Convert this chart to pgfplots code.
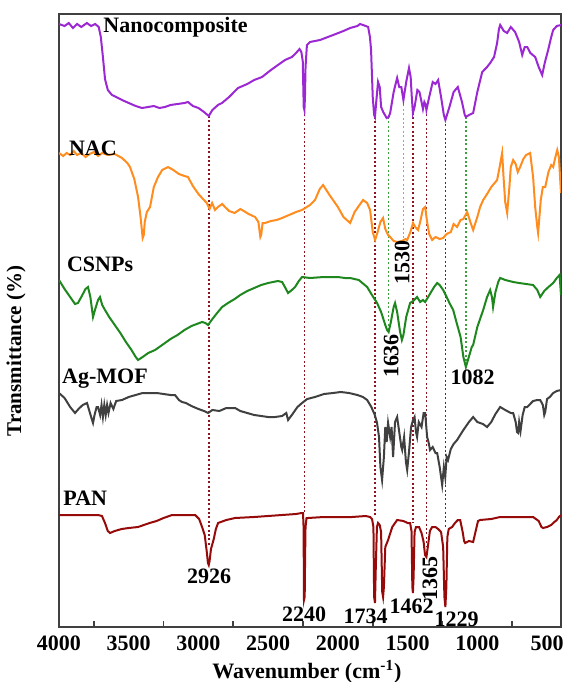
\documentclass[border=0pt]{standalone}
\usepackage{fontspec}
\setmainfont{Liberation Serif}
\usepackage{pgfplots}
\usepackage{pgfplotstable}
\pgfplotsset{compat=1.18}
\definecolor{cpur}{RGB}{155,40,210}
\definecolor{corg}{RGB}{255,140,30}
\definecolor{cgrn}{RGB}{30,135,30}
\definecolor{cgry}{RGB}{64,64,64}
\definecolor{cred}{RGB}{150,10,10}
\definecolor{cdot}{RGB}{140,20,30}
\definecolor{cgdot}{RGB}{60,160,60}
\newcommand\lf{\fontsize{11}{13}\selectfont\bfseries}

\pgfplotstableread{
x y
4000 603
3960 601
3930 604
3900 599
3870 603
3840 600
3800 604
3770 601
3740 603
3715 600
3700 590
3685 570
3670 548
3650 537
3620 532
3590 530
3548 527
3500 524
3450 521
3405 519
3360 520
3320 521
3280 519
3240 520
3200 522
3150 523
3100 524
3075 525
3040 521
3000 519
2960 515
2926 511
2900 517
2860 522
2831 524
2780 530
2716 539
2650 543
2600 547
2544 550
2480 557
2430 562
2379 567
2330 570
2300 574
2275 578
2262 575
2252 566
2245 520
2240 517
2236 530
2232 560
2222 582
2200 585
2128 587
2034 592
1960 596
1912 599
1860 601
1841 603
1800 601
1783 600
1770 590
1762 577
1750 530
1740 512
1734 510
1725 525
1712 545
1700 540
1690 520
1675 515
1650 509
1636 510
1625 514
1600 535
1575 549
1560 540
1545 540
1530 527
1510 545
1490 559
1478 550
1470 530
1462 514
1450 520
1430 537
1415 535
1400 525
1390 518
1380 525
1370 522
1365 517
1345 530
1320 545
1300 543
1281 547
1260 530
1240 512
1229 507
1200 520
1170 535
1140 540
1110 525
1090 512
1082 510
1060 512
1030 514
1000 535
965 555
930 560
908 564
880 570
858 584
845 598
836 602
810 596
786 594
760 600
729 595
700 585
678 572
660 580
642 580
620 574
585 570
560 560
535 552
515 565
492 577
470 590
456 597
430 601
400 602
}\nano

\pgfplotstableread{
x y
4000 474
3970 471
3945 474
3920 472
3895 476
3870 472
3840 474
3810 470
3780 473
3750 475
3720 471
3690 474
3650 472
3600 473
3548 469
3510 464
3491 460
3460 448
3433 430
3415 410
3400 389
3392 392
3385 405
3370 415
3347 420
3320 440
3290 450
3260 457
3218 460
3180 457
3140 453
3100 451
3075 450
3040 441
3000 433
2974 429
2940 424
2920 418
2902 424
2881 417
2860 420
2830 423
2809 420
2780 416
2740 414
2700 418
2687 417
2640 413
2594 410
2570 405
2556 390
2550 392
2540 404
2522 404
2480 406
2440 407
2400 409
2350 412
2300 415
2257 417
2200 422
2164 427
2130 438
2106 442
2060 432
2000 420
1960 410
1912 404
1880 415
1840 423
1819 427
1790 424
1769 417
1750 395
1733 387
1715 395
1695 405
1676 409
1660 398
1640 392
1625 390
1600 386
1575 385
1540 386
1515 388
1503 387
1480 395
1461 404
1445 400
1425 397
1410 405
1390 418
1374 420
1360 405
1345 393
1324 387
1300 390
1270 388
1245 389
1220 393
1190 395
1170 403
1145 400
1120 407
1100 408
1073 415
1050 405
1030 397
1000 410
980 420
958 427
930 433
900 440
858 447
840 460
822 474
812 450
800 425
786 414
770 440
760 460
743 467
725 463
710 455
693 460
670 468
650 472
621 474
600 450
585 420
570 400
564 394
545 427
530 440
513 440
490 455
470 462
456 460
440 470
427 477
415 470
400 434
}\nac

\pgfplotstableread{
x y
4000 347
3960 338
3920 330
3885 323
3864 324
3840 330
3810 338
3792 340
3775 330
3756 310
3740 318
3720 327
3706 330
3690 322
3670 317
3640 310
3600 302
3560 294
3520 285
3480 277
3450 270
3433 267
3400 270
3360 274
3311 277
3250 283
3200 288
3150 292
3100 297
3050 301
2974 305
2950 304
2931 302
2900 308
2860 315
2830 320
2788 324
2740 328
2700 332
2650 336
2600 339
2550 342
2500 344
2430 346
2400 345
2380 340
2357 334
2330 337
2307 340
2280 346
2257 350
2200 349
2100 350
2000 350
1950 349
1912 349
1850 347
1790 340
1760 333
1719 324
1690 315
1660 302
1647 297
1636 295
1620 305
1600 320
1590 324
1575 315
1555 296
1541 287
1530 292
1510 310
1482 324
1460 326
1432 330
1410 325
1390 327
1374 325
1340 333
1310 340
1288 344
1270 342
1245 337
1220 330
1200 324
1173 317
1150 305
1120 290
1100 270
1082 260
1065 268
1040 280
1030 282
1000 300
958 317
930 330
908 337
895 330
887 320
870 335
850 345
836 349
800 347
743 345
700 344
650 343
600 342
570 337
549 330
520 336
490 340
456 344
430 349
410 352
400 332
}\csnp

\pgfplotstableread{
x y
4000 234
3960 229
3920 220
3885 214
3860 218
3830 222
3799 224
3780 215
3765 208
3756 204
3745 212
3730 220
3720 220
3705 212
3695 222
3685 210
3675 222
3665 212
3655 222
3645 214
3630 224
3610 218
3590 226
3548 227
3500 230
3450 232
3400 234
3362 234
3300 234
3250 233
3200 232
3168 232
3140 227
3118 225
3090 224
3050 221
3000 218
2960 216
2931 214
2900 217
2850 216
2800 219
2737 219
2700 216
2650 214
2600 212
2550 211
2501 210
2450 210
2400 211
2370 214
2357 207
2330 212
2290 220
2257 224
2220 228
2164 230
2100 233
2034 234
1980 235
1920 234
1860 232
1820 230
1790 227
1760 220
1735 212
1719 204
1705 190
1695 160
1683 147
1670 170
1660 200
1650 185
1640 204
1625 190
1615 200
1604 170
1590 205
1575 210
1560 195
1545 180
1539 177
1525 190
1512 165
1503 157
1490 175
1475 200
1461 207
1450 210
1440 195
1432 190
1420 205
1400 200
1385 214
1374 214
1360 190
1350 185
1339 177
1320 180
1300 174
1288 174
1270 160
1260 150
1252 142
1240 160
1230 150
1220 170
1210 167
1190 178
1170 183
1145 187
1100 197
1060 205
1030 210
1000 205
960 203
930 200
900 205
870 213
836 220
800 217
760 214
743 214
725 205
715 195
707 194
700 205
690 196
675 212
660 220
642 220
600 226
570 227
549 227
530 222
520 212
513 215
500 228
480 230
456 234
430 236
400 237
}\agmof

\pgfplotstableread{
x y
4000 112
3900 112
3800 112
3720 112
3692 111
3670 104
3650 96
3634 94
3600 96
3550 98
3500 99
3433 100
3350 104
3300 106
3250 109
3189 112
3100 112
3024 112
2995 108
2974 100
2955 92
2940 75
2932 64
2926 62
2920 66
2910 78
2902 82
2890 88
2875 98
2859 104
2800 107
2737 109
2600 110
2500 111
2400 112
2300 113
2260 114
2250 114
2246 100
2243 27
2238 30
2235 70
2232 100
2225 109
2214 109
2100 110
2000 110
1900 110
1800 111
1769 110
1755 108
1745 100
1740 30
1734 24
1728 60
1720 100
1712 104
1700 102
1690 95
1682 35
1676 30
1670 40
1660 80
1640 87
1610 100
1575 107
1530 106
1500 104
1482 104
1472 96
1466 40
1462 34
1457 50
1450 95
1440 100
1418 100
1400 94
1385 85
1375 72
1365 70
1355 80
1340 96
1324 100
1300 100
1281 98
1260 95
1245 80
1236 30
1229 20
1222 40
1215 90
1205 98
1181 100
1160 104
1140 107
1123 107
1105 95
1095 86
1087 84
1060 86
1030 85
1010 97
995 106
980 107
900 108
836 110
700 110
600 110
560 106
540 100
528 99
500 100
470 102
456 104
430 107
415 110
400 112
}\pan

\begin{document}
\begin{tikzpicture}
\begin{axis}[
  scale only axis,
  width=251pt, height=306.5pt,
  xmin=400, xmax=4000, ymin=0, ymax=613,
  x dir=reverse,
  axis line style={draw=cgry, line width=0.8pt},
  xtick={500,1000,...,4000},
  minor xtick={750,1250,...,3750},
  major tick length=0pt,
  minor tick length=3pt,
  tick align=inside,
  xtick pos=bottom,
  ytick=\empty,
  tick style={draw=cgry, line width=0.8pt},
  /pgf/number format/assume math mode=true,
  /pgf/number format/1000 sep={},
  xticklabel style={font=\lf, yshift=-1pt},
  xlabel={Wavenumber (cm\textsuperscript{-1})},
  ylabel={Transmittance (\%)},
  xlabel style={font=\lf, at={(axis description cs:0.494,-0.0734)}, anchor=center},
  ylabel style={font=\fontsize{10.5}{12}\selectfont\bfseries, at={(axis description cs:-0.0857,0.45)}, anchor=center, rotate=0},
  every axis plot/.append style={line width=1pt},
]
% dotted guide lines
\addplot[cdot, line width=0.8pt, dash pattern=on 1pt off 1.2pt] coordinates {(2926,511) (2926,80)};
\addplot[cdot, line width=0.8pt, dash pattern=on 1pt off 1.2pt] coordinates {(2240,517) (2240,114)};
\addplot[cdot, line width=0.8pt, dash pattern=on 1pt off 1.2pt] coordinates {(1734,510) (1734,112)};
\addplot[cdot, line width=0.8pt, dash pattern=on 1pt off 1.2pt] coordinates {(1462,514) (1462,104)};
\addplot[cdot, line width=0.8pt, dash pattern=on 1pt off 1.2pt] coordinates {(1365,517) (1365,80)};
\addplot[cdot, line width=0.8pt, dash pattern=on 1pt off 1.2pt] coordinates {(1229,507) (1229,98)};
\addplot[cgdot, line width=0.8pt, dash pattern=on 1pt off 1.2pt] coordinates {(1636,510) (1636,295)};
\addplot[cgdot, line width=0.8pt, dash pattern=on 1pt off 1.2pt] coordinates {(1082,510) (1082,260)};
\addplot[corg, line width=0.8pt, dash pattern=on 1pt off 1.2pt] coordinates {(1530,527) (1530,387)};
% spectra
\addplot[cpur] table {\nano};
\addplot[corg] table {\nac};
\addplot[cgrn] table {\csnp};
\addplot[cgry] table {\agmof};
\addplot[cred] table {\pan};
% curve labels
\node[font=\lf, anchor=base west, inner sep=0] at (axis cs:3684,594.5) {Nanocomposite};
\node[font=\lf, anchor=base west, inner sep=0] at (axis cs:3931,472) {NAC};
\node[font=\lf, anchor=base west, inner sep=0] at (axis cs:3945,356) {CSNPs};
\node[font=\lf, anchor=base west, inner sep=0] at (axis cs:3980,244) {Ag-MOF};
\node[font=\lf, anchor=base west, inner sep=0] at (axis cs:3971,122) {PAN};
% peak labels
\node[font=\lf, inner sep=0] at (axis cs:2924,51) {2926};
\node[font=\lf, inner sep=0] at (axis cs:2242,13) {2240};
\node[font=\lf, inner sep=0] at (axis cs:1801,10.5) {1734};
\node[font=\lf, inner sep=0] at (axis cs:1471,21) {1462};
\node[font=\lf, inner sep=0] at (axis cs:1148,8) {1229};
\node[font=\lf, inner sep=0, rotate=90] at (axis cs:1339,49) {1365};
\node[font=\lf, inner sep=0, rotate=90] at (axis cs:1618,271) {1636};
\node[font=\lf, inner sep=0, rotate=90] at (axis cs:1539,364) {1530};
\node[font=\lf, inner sep=0] at (axis cs:1033,249.5) {1082};
\coordinate (BL) at (axis description cs:0,0);
\coordinate (TR) at (axis description cs:1,1);
\end{axis}
\pgfresetboundingbox
\path ([xshift=-29.5pt,yshift=-27.5pt]BL) rectangle ([xshift=2.5pt,yshift=7pt]TR);
\end{tikzpicture}
\end{document}
